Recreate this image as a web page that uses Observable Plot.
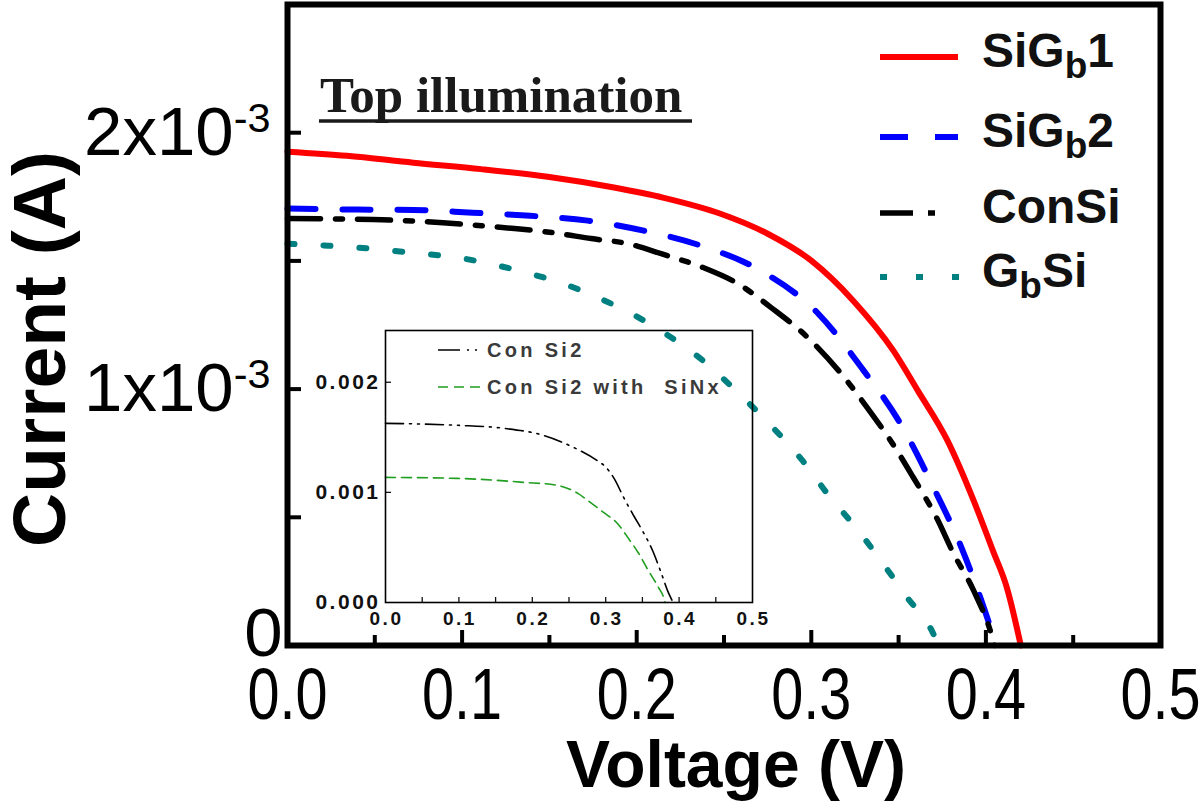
<!DOCTYPE html>
<html>
<head>
<meta charset="utf-8">
<script src="https://cdn.jsdelivr.net/npm/d3@7"></script>
<script src="https://cdn.jsdelivr.net/npm/@observablehq/plot@0.6"></script>
<style>
  body { margin: 0; background: #fff; }
  #wrap { position: relative; width: 1200px; height: 805px; overflow: hidden; background: #fff; }
  #wrap > svg, #wrap > div { position: absolute; }
</style>
</head>
<body>
<div id="wrap"></div>
<script>
// ---------------- data (voltage in V, current in A) ----------------
const seriesNames = ["SiGb1", "SiGb2", "ConSi", "GbSi"];

const vSiGb1 = [0, 0.034, 0.072, 0.111, 0.149, 0.187, 0.215, 0.248, 0.275, 0.300, 0.324, 0.347, 0.361, 0.378, 0.393, 0.404, 0.412, 0.420];
const iSiGb1 = [0.001926, 0.001910, 0.001883, 0.001858, 0.001828, 0.001786, 0.001747, 0.001684, 0.001606, 0.001501, 0.001345, 0.001150, 0.000994, 0.000799, 0.000565, 0.000370, 0.000226, 0];

const vSiGb2 = [0, 0.040, 0.072, 0.106, 0.139, 0.172, 0.204, 0.237, 0.271, 0.304, 0.330, 0.351, 0.370, 0.386, 0.398, 0.406];
const iSiGb2 = [0.001704, 0.001700, 0.001699, 0.001688, 0.001676, 0.001657, 0.001618, 0.001559, 0.001462, 0.001294, 0.001072, 0.000866, 0.000616, 0.000382, 0.000164, 0];

const vConSi = [0, 0.049, 0.089, 0.111, 0.130, 0.152, 0.174, 0.195, 0.214, 0.238, 0.258, 0.277, 0.298, 0.317, 0.332, 0.348, 0.358, 0.372, 0.381, 0.393, 0.403, 0.405];
const iConSi = [0.001665, 0.001661, 0.001649, 0.001637, 0.001626, 0.001610, 0.001587, 0.001567, 0.001528, 0.001474, 0.001411, 0.001318, 0.001201, 0.001061, 0.000928, 0.000772, 0.000660, 0.000495, 0.000365, 0.000214, 0.000047, 0];

const vGbSi = [0, 0.021, 0.040, 0.059, 0.080, 0.100, 0.119, 0.139, 0.158, 0.179, 0.199, 0.218, 0.238, 0.258, 0.278, 0.295, 0.310, 0.326, 0.341, 0.355, 0.369, 0.373];
const iGbSi = [0.001567, 0.001560, 0.001552, 0.001540, 0.001527, 0.001510, 0.001484, 0.001450, 0.001411, 0.001353, 0.001287, 0.001209, 0.001111, 0.000986, 0.000850, 0.000721, 0.000585, 0.000456, 0.000320, 0.000187, 0.000058, 0];

// inset
const insetNames = ["Con Si2", "Con Si2 with  SiNx"];
const vConSi2 = [0, 0.098, 0.161, 0.215, 0.256, 0.288, 0.300, 0.312, 0.324, 0.338, 0.351, 0.364, 0.375, 0.386, 0.392];
const iConSi2 = [0.001627, 0.001609, 0.001582, 0.001518, 0.001409, 0.001290, 0.001230, 0.001120, 0.000960, 0.000790, 0.000640, 0.000470, 0.000280, 0.000080, 0];
const vConSi2SiNx = [0, 0.098, 0.188, 0.234, 0.262, 0.279, 0.297, 0.316, 0.331, 0.345, 0.358, 0.372, 0.379, 0.381];
const iConSi2SiNx = [0.001136, 0.001127, 0.001091, 0.001064, 0.000991, 0.000909, 0.000818, 0.000718, 0.000582, 0.000445, 0.000291, 0.000136, 0.000045, 0];

// ticks
const xTickValues = [0, 0.1, 0.2, 0.3, 0.4, 0.5];
const xMajorInner = [0.1, 0.2, 0.3, 0.4];
const xMinorInner = [0.05, 0.15, 0.25, 0.35, 0.45];
const yTickValues = [0, 0.001, 0.002];
const yInnerTicks = [0.0005, 0.001, 0.0015, 0.002];
const insetXTicks = [0, 0.1, 0.2, 0.3, 0.4, 0.5];
const insetXMinor = [0.05, 0.1, 0.15, 0.2, 0.25, 0.3, 0.35, 0.4, 0.45];
const insetYTicks = [0, 0.001, 0.002];
const insetYInner = [0.001, 0.002];

// legend label parts (base, subscript, tail)
const legendParts = [["SiG", "b", "1"], ["SiG", "b", "2"], ["ConSi", "", ""], ["G", "b", "Si"]];

// ---------------- styles ----------------
const styles = {
  SiGb1: { stroke: "#ff0000", strokeWidth: 6, dash: null },
  SiGb2: { stroke: "#0000ff", strokeWidth: 6, dash: "28,27" },
  ConSi: { stroke: "#000000", strokeWidth: 5.5, dash: "33,15,7,15" },
  GbSi:  { stroke: "#008080", strokeWidth: 6, dash: "7,29" }
};
const legendLineEnd = { SiGb1: 958, SiGb2: 958, ConSi: 938, GbSi: 960 };
const insetStyles = [
  { stroke: "#000000", strokeWidth: 1.6, dash: "18,6,2,6,2,6" },
  { stroke: "#1f9e1f", strokeWidth: 1.6, dash: "10,6" }
];

const rows = (name, vs, is) => vs.map((v, k) => ({ series: name, v, i: is[k] }));
const mainData = {
  SiGb1: rows("SiGb1", vSiGb1, iSiGb1),
  SiGb2: rows("SiGb2", vSiGb2, iSiGb2),
  ConSi: rows("ConSi", vConSi, iConSi),
  GbSi: rows("GbSi", vGbSi, iGbSi)
};
const insetData = [rows(insetNames[0], vConSi2, iConSi2), rows(insetNames[1], vConSi2SiNx, iConSi2SiNx)];

const sans = "'Liberation Sans', Arial, Helvetica, sans-serif";
const wrap = document.getElementById("wrap");

function appendTransform(el, extra) {
  const t = el.getAttribute("transform");
  if (t) el.setAttribute("transform", t + " " + extra);
  else {
    const x = +el.getAttribute("x") || 0, y = +el.getAttribute("y") || 0;
    el.removeAttribute("x"); el.removeAttribute("y");
    el.setAttribute("transform", `translate(${x},${y}) ${extra}`);
  }
}

// ---------------- main plot ----------------
const W = 1200, H = 805, mL = 287, mR = 40, mT = 4, mB = 160;
const innerW = W - mL - mR, innerH = H - mT - mB;

const main = Plot.plot({
  width: W, height: H,
  marginLeft: mL, marginRight: mR, marginTop: mT, marginBottom: mB,
  style: { fontFamily: sans, background: "transparent", color: "#000", overflow: "visible" },
  x: { domain: [0, 0.5] },
  y: { domain: [0, 0.0025] },
  marks: [
    ...seriesNames.map(n => Plot.line(mainData[n], {
      x: "v", y: "i", stroke: styles[n].stroke, strokeWidth: styles[n].strokeWidth,
      strokeDasharray: styles[n].dash, curve: "monotone-x"
    })),
    Plot.ruleX(xMajorInner, { strokeWidth: 4, insetTop: innerH - 15 }),
    Plot.ruleX(xMinorInner, { strokeWidth: 4, insetTop: innerH - 10 }),
    Plot.ruleY(yInnerTicks, { strokeWidth: 4, insetRight: innerW - 14 }),
    Plot.frame({ stroke: "#000", strokeWidth: 6 }),
    Plot.axisX(xTickValues, { tickSize: 0, tickPadding: 22, fontSize: 72, tickFormat: d => d.toFixed(1), label: null }),
    Plot.axisY(yTickValues, { tickSize: 0, tickPadding: 17, fontSize: 69,
      tickFormat: d => d === 0 ? "0" : `${Math.round(d * 1000)}x10`, label: null }),
    Plot.text(["Voltage (V)"], { frameAnchor: "bottom", dx: 12, dy: 141, lineAnchor: "bottom",
      textAnchor: "middle", fontSize: 66, fontWeight: "bold", text: d => d }),
    Plot.text(["Current (A)"], { frameAnchor: "left", rotate: -90, dx: -247, dy: 24,
      textAnchor: "middle", lineAnchor: "middle", fontSize: 75, fontWeight: "bold", text: d => d })
  ]
});
main.style.left = "0px"; main.style.top = "0px";
wrap.appendChild(main);

// condensed look for x tick labels
main.querySelectorAll('g[aria-label="x-axis tick label"] text').forEach(el => appendTransform(el, "scale(0.8,1)"));
// superscript exponent on y tick labels
main.querySelectorAll('g[aria-label="y-axis tick label"] text').forEach(el => {
  if (el.textContent.trim() === "0") { appendTransform(el, "translate(12,-12)"); return; }
  const ts = document.createElementNS("http://www.w3.org/2000/svg", "tspan");
  ts.setAttribute("dy", "-0.55em");
  ts.setAttribute("font-size", "0.6em");
  ts.textContent = "-3";
  el.appendChild(ts);
});

// ---------------- inset plot ----------------
const iW = 470, iH = 335, iL = 85, iR = 18, iT = 12, iB = 51;
const iInnerW = iW - iL - iR, iInnerH = iH - iT - iB;
const inset = Plot.plot({
  width: iW, height: iH,
  marginLeft: iL, marginRight: iR, marginTop: iT, marginBottom: iB,
  style: { fontFamily: sans, background: "transparent", color: "#111", overflow: "visible" },
  x: { domain: [0, 0.5] },
  y: { domain: [0, 0.00247] },
  marks: [
    ...insetData.map((d, k) => Plot.line(d, {
      x: "v", y: "i", stroke: insetStyles[k].stroke, strokeWidth: insetStyles[k].strokeWidth,
      strokeDasharray: insetStyles[k].dash, curve: "monotone-x"
    })),
    Plot.ruleX(insetXMinor, { strokeWidth: 1.3, insetTop: iInnerH - 5 }),
    Plot.ruleY(insetYInner, { strokeWidth: 1.3, insetRight: iInnerW - 6 }),
    Plot.frame({ stroke: "#000", strokeWidth: 1.6 }),
    Plot.axisX(insetXTicks, { tickSize: 0, tickPadding: 9, fontSize: 19, fontWeight: "bold",
      tickFormat: d => d.toFixed(1), label: null }),
    Plot.axisY(insetYTicks, { tickSize: 0, tickPadding: 5, fontSize: 21, fontWeight: "bold",
      tickFormat: d => d.toFixed(3), label: null })
  ]
});
inset.style.left = "300px"; inset.style.top = "318px";
wrap.appendChild(inset);
inset.querySelectorAll('g[aria-label="x-axis tick label"] text').forEach(el => {
  el.setAttribute("letter-spacing", "2.5");
  appendTransform(el, "translate(1,0)");
});
inset.querySelectorAll('g[aria-label="y-axis tick label"] text').forEach(el => {
  el.setAttribute("letter-spacing", "2.5");
});

// ---------------- overlays: legends and annotation ----------------
const ov = d3.select(wrap).append("svg")
  .attr("width", W).attr("height", H)
  .style("left", "0px").style("top", "0px")
  .style("pointer-events", "none")
  .style("font-family", sans);

// main legend
const legY = [57, 137, 213, 277];
seriesNames.forEach((n, k) => {
  const s = styles[n];
  ov.append("line").attr("x1", 880).attr("x2", legendLineEnd[n]).attr("y1", legY[k]).attr("y2", legY[k])
    .attr("stroke", s.stroke).attr("stroke-width", s.strokeWidth)
    .attr("stroke-dasharray", s.dash);
  const [a, b, c] = legendParts[k];
  const t = ov.append("text").attr("x", 982).attr("y", legY[k] + 10)
    .attr("font-size", 48).attr("font-weight", "bold").attr("fill", "#111");
  t.append("tspan").text(a);
  if (b) {
    t.append("tspan").attr("dy", 11).attr("font-size", 37).text(b);
    t.append("tspan").attr("dy", -11).text(c);
  }
});

// inset legend
const iLegY = [350, 387];
insetNames.forEach((n, k) => {
  const s = insetStyles[k];
  ov.append("line").attr("x1", 438).attr("x2", 480).attr("y1", iLegY[k]).attr("y2", iLegY[k])
    .attr("stroke", s.stroke).attr("stroke-width", s.strokeWidth)
    .attr("stroke-dasharray", k === 0 ? "22,7,2,6,2,6" : s.dash);
  ov.append("text").attr("x", 487).attr("y", iLegY[k] + 7)
    .attr("font-size", 20).attr("font-weight", "bold").attr("fill", "#3a3a3a")
    .attr("letter-spacing", 3.3).style("white-space", "pre").text(n);
});

// annotation
ov.append("text").attr("x", 320).attr("y", 112)
  .attr("font-family", "'Liberation Serif', 'Times New Roman', serif")
  .attr("font-size", 51).attr("font-weight", "bold").attr("fill", "#1a1a1a")
  .text("Top illumination");
ov.append("line").attr("x1", 319).attr("x2", 692).attr("y1", 121).attr("y2", 121)
  .attr("stroke", "#1a1a1a").attr("stroke-width", 3.5);
</script>
</body>
</html>
